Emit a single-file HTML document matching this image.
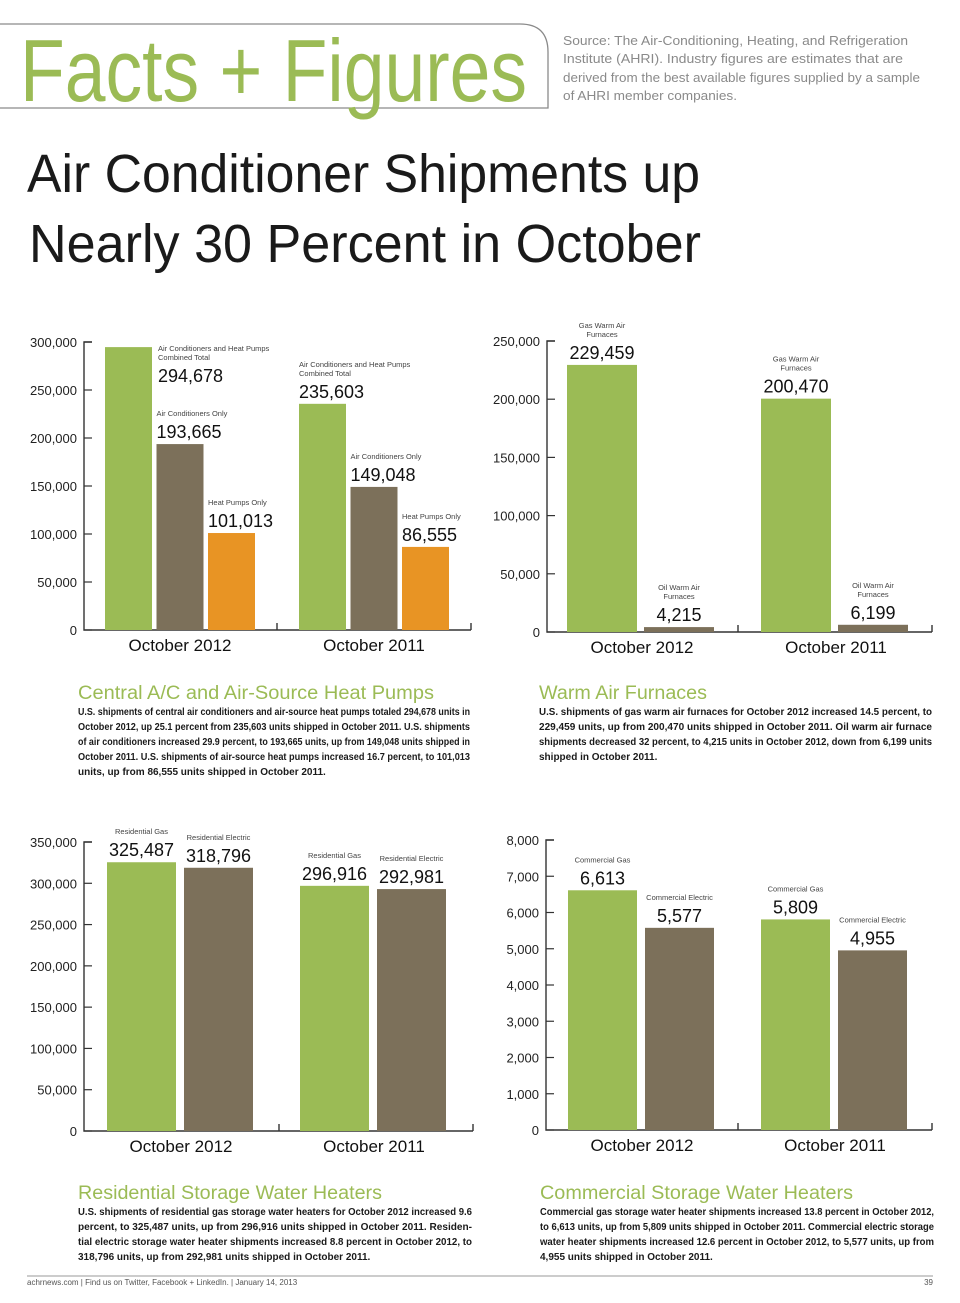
<!DOCTYPE html>
<html><head><meta charset="utf-8"><style>
html,body{margin:0;padding:0;background:#fff;}
svg{display:block;font-family:"Liberation Sans",sans-serif;}
</style></head><body>
<svg id="page" width="960" height="1303" viewBox="0 0 960 1303" xmlns="http://www.w3.org/2000/svg">
<path d="M0 24 H520 Q548 24 548 52 V108 H0" fill="none" stroke="#8a8a8a" stroke-width="1.3"/>
<text x="20" y="101" font-size="88" fill="#9bbb55" textLength="507" lengthAdjust="spacingAndGlyphs">Facts + Figures</text>
<g font-size="13" fill="#8a8a8a">
<text x="563" y="45" textLength="345" lengthAdjust="spacingAndGlyphs">Source: The Air-Conditioning, Heating, and Refrigeration</text>
<text x="563" y="63" textLength="340" lengthAdjust="spacingAndGlyphs">Institute (AHRI). Industry figures are estimates that are</text>
<text x="563" y="82" textLength="357" lengthAdjust="spacingAndGlyphs">derived from the best available figures supplied by a sample</text>
<text x="563" y="100" textLength="174" lengthAdjust="spacingAndGlyphs">of AHRI member companies.</text>
</g>
<g font-size="54" fill="#1a1a1a">
<text x="27" y="192" textLength="673" lengthAdjust="spacingAndGlyphs">Air Conditioner Shipments up</text>
<text x="29" y="262" textLength="672" lengthAdjust="spacingAndGlyphs">Nearly 30 Percent in October</text>
</g>
<g id="charts"></g>
<g id="texts"></g>
<line x1="27" y1="1276" x2="933" y2="1276" stroke="#999" stroke-width="1"/>
<text x="27" y="1285" font-size="8" fill="#555">achrnews.com  |  Find us on Twitter, Facebook + LinkedIn.  |  January 14, 2013</text>
<text x="933" y="1285" font-size="8" fill="#555" text-anchor="end">39</text>
</svg>
<script>
const NS="http://www.w3.org/2000/svg";
const GREEN="#9bbb55",BROWN="#7c705a",ORANGE="#e89424";
// Chart 1: Central A/C
const c1Categories=["October 2012","October 2011"];
const c1Series=["Air Conditioners and Heat Pumps|Combined Total","Air Conditioners Only","Heat Pumps Only"];
const c1Values=[[294678,193665,101013],[235603,149048,86555]];
const c1Ticks=[0,50000,100000,150000,200000,250000,300000];
// Chart 2: Warm air furnaces
const c2Categories=["October 2012","October 2011"];
const c2Series=["Gas Warm Air|Furnaces","Oil Warm Air|Furnaces"];
const c2Values=[[229459,4215],[200470,6199]];
const c2Ticks=[0,50000,100000,150000,200000,250000];
// Chart 3: Residential water heaters
const c3Categories=["October 2012","October 2011"];
const c3Series=["Residential Gas","Residential Electric"];
const c3Values=[[325487,318796],[296916,292981]];
const c3Ticks=[0,50000,100000,150000,200000,250000,300000,350000];
// Chart 4: Commercial water heaters
const c4Categories=["October 2012","October 2011"];
const c4Series=["Commercial Gas","Commercial Electric"];
const c4Values=[[6613,5577],[5809,4955]];
const c4Ticks=[0,1000,2000,3000,4000,5000,6000,7000,8000];

const root=document.getElementById('charts');
function mk(tag,attrs,parent,txt){const e=document.createElementNS(NS,tag);for(const k in attrs)e.setAttribute(k,attrs[k]);if(txt!==undefined)e.textContent=txt;parent.appendChild(e);return e;}
const fmt=v=>v.toLocaleString('en-US');

function drawChart(cfg,cats,series,vals,ticks,colors){
  const g=mk('g',{},root);
  
  
  const max=ticks[ticks.length-1];
  const y=v=>cfg.y0-(v/max)*(cfg.y0-cfg.yTop);
  const ax=mk('path',{d:`M${cfg.ax+8} ${cfg.yTop} H${cfg.ax} V${cfg.y0} H${cfg.axEnd} M${cfg.axEnd} ${cfg.y0-7} V${cfg.y0} M${cfg.mid} ${cfg.y0-7} V${cfg.y0}`,fill:'none',stroke:'#333','stroke-width':1.4},g);
  
  
  ticks.forEach(t=>{
    const ty=y(t);
    const tl=mk('line',{x1:cfg.ax,x2:cfg.ax+8,y1:ty,y2:ty,stroke:'#333','stroke-width':1.2},g);
    
    
    const tx=mk('text',{x:cfg.ax-7,y:ty+5,'font-size':13,'text-anchor':'end',fill:'#222'},g,fmt(t));
    
    
  });
  cats.forEach((c,ci)=>{
    const gx=cfg.gx[ci];
    const ct=mk('text',{x:(gx+cfg.catCenterOffset),y:cfg.y0+21,'font-size':17,'text-anchor':'middle',fill:'#111'},g,c);
    
    
    vals[ci].forEach((v,si)=>{
      const bx=gx+si*cfg.step, by=y(v);
      const r=mk('rect',{x:bx,y:by,width:cfg.bw,height:cfg.y0-by,fill:colors[si]},g);
      
      
      let lx=bx+cfg.bw/2, anchor='middle', vy=by-6;
      if(cfg.leftLabels){lx=bx;anchor='start';}
      if(cfg.beside&&ci===0&&si===0){lx=bx+cfg.bw+6;vy=by+35;}
      const vt=mk('text',{x:lx,y:vy,'font-size':18,'text-anchor':anchor,fill:'#111'},g,fmt(v));
      
      
      const lines=series[si].split('|');
      lines.forEach((ln,li)=>{
        const st=mk('text',{x:lx,y:vy-22-(lines.length-1-li)*9,'font-size':7.5,'text-anchor':anchor,fill:'#444'},g,ln);
        
        
      });
    });
  });
}
drawChart({name:'chart-central-ac',ax:84,axEnd:471,mid:277,y0:630,yTop:342,gx:[105,299],step:51.5,bw:47,catCenterOffset:75,leftLabels:true,beside:true},c1Categories,c1Series,c1Values,c1Ticks,[GREEN,BROWN,ORANGE]);
drawChart({name:'chart-warm-air-furnaces',ax:547,axEnd:932,mid:738,y0:632,yTop:341,gx:[567,761],step:77,bw:70,catCenterOffset:75},c2Categories,c2Series,c2Values,c2Ticks,[GREEN,BROWN]);
drawChart({name:'chart-residential-water-heaters',ax:84,axEnd:473,mid:279,y0:1131,yTop:842,gx:[107,300],step:77,bw:69,catCenterOffset:74},c3Categories,c3Series,c3Values,c3Ticks,[GREEN,BROWN]);
drawChart({name:'chart-commercial-water-heaters',ax:546,axEnd:932,mid:738,y0:1130,yTop:840,gx:[568,761],step:77,bw:69,catCenterOffset:74},c4Categories,c4Series,c4Values,c4Ticks,[GREEN,BROWN]);

// Text blocks
const blocks=[
 {name:'central-ac-section',x:78,y:699,w:392,title:'Central A/C and Air-Source Heat Pumps',tw:356,lines:[
  'U.S. shipments of central air conditioners and air-source heat pumps totaled 294,678 units in',
  'October 2012, up 25.1 percent from 235,603 units shipped in October 2011. U.S. shipments',
  'of air conditioners increased 29.9 percent, to 193,665 units, up from 149,048 units shipped in',
  'October 2011. U.S. shipments of air-source heat pumps increased 16.7 percent, to 101,013',
  'units, up from 86,555 units shipped in October 2011.']},
 {name:'warm-air-furnaces-section',x:539,y:699,w:393,title:'Warm Air Furnaces',tw:168,lines:[
  'U.S. shipments of gas warm air furnaces for October 2012 increased 14.5 percent, to',
  '229,459 units, up from 200,470 units shipped in October 2011. Oil warm air furnace',
  'shipments decreased 32 percent, to 4,215 units in October 2012, down from 6,199 units',
  'shipped in October 2011.']},
 {name:'residential-water-heaters-section',x:78,y:1199,w:394,title:'Residential Storage Water Heaters',tw:304,lines:[
  'U.S. shipments of residential gas storage water heaters for October 2012 increased 9.6',
  'percent, to 325,487 units, up from 296,916 units shipped in October 2011. Residen-',
  'tial electric storage water heater shipments increased 8.8 percent in October 2012, to',
  '318,796 units, up from 292,981 units shipped in October 2011.']},
 {name:'commercial-water-heaters-section',x:540,y:1199,w:394,title:'Commercial Storage Water Heaters',tw:313,lines:[
  'Commercial gas storage water heater shipments increased 13.8 percent in October 2012,',
  'to 6,613 units, up from 5,809 units shipped in October 2011. Commercial electric storage',
  'water heater shipments increased 12.6 percent in October 2012, to 5,577 units, up from',
  '4,955 units shipped in October 2011.']}
];
const tg=document.getElementById('texts');
blocks.forEach(b=>{
  const g=mk('g',{},tg);
  
  
  const h=mk('text',{x:b.x,y:b.y,'font-size':19,fill:'#9bbb55',textLength:b.tw,lengthAdjust:'spacingAndGlyphs'},g,b.title);
  
  
  b.lines.forEach((ln,i)=>{
    const last=i===b.lines.length-1;
    const attrs={x:b.x,y:b.y+16+i*15,'font-size':10,'font-weight':'bold',fill:'#1a1a1a'};
    if(!last){attrs.textLength=b.w;attrs.lengthAdjust='spacingAndGlyphs';}
    const t=mk('text',attrs,g,ln);
    
    
  });
});
</script>
</body></html>
